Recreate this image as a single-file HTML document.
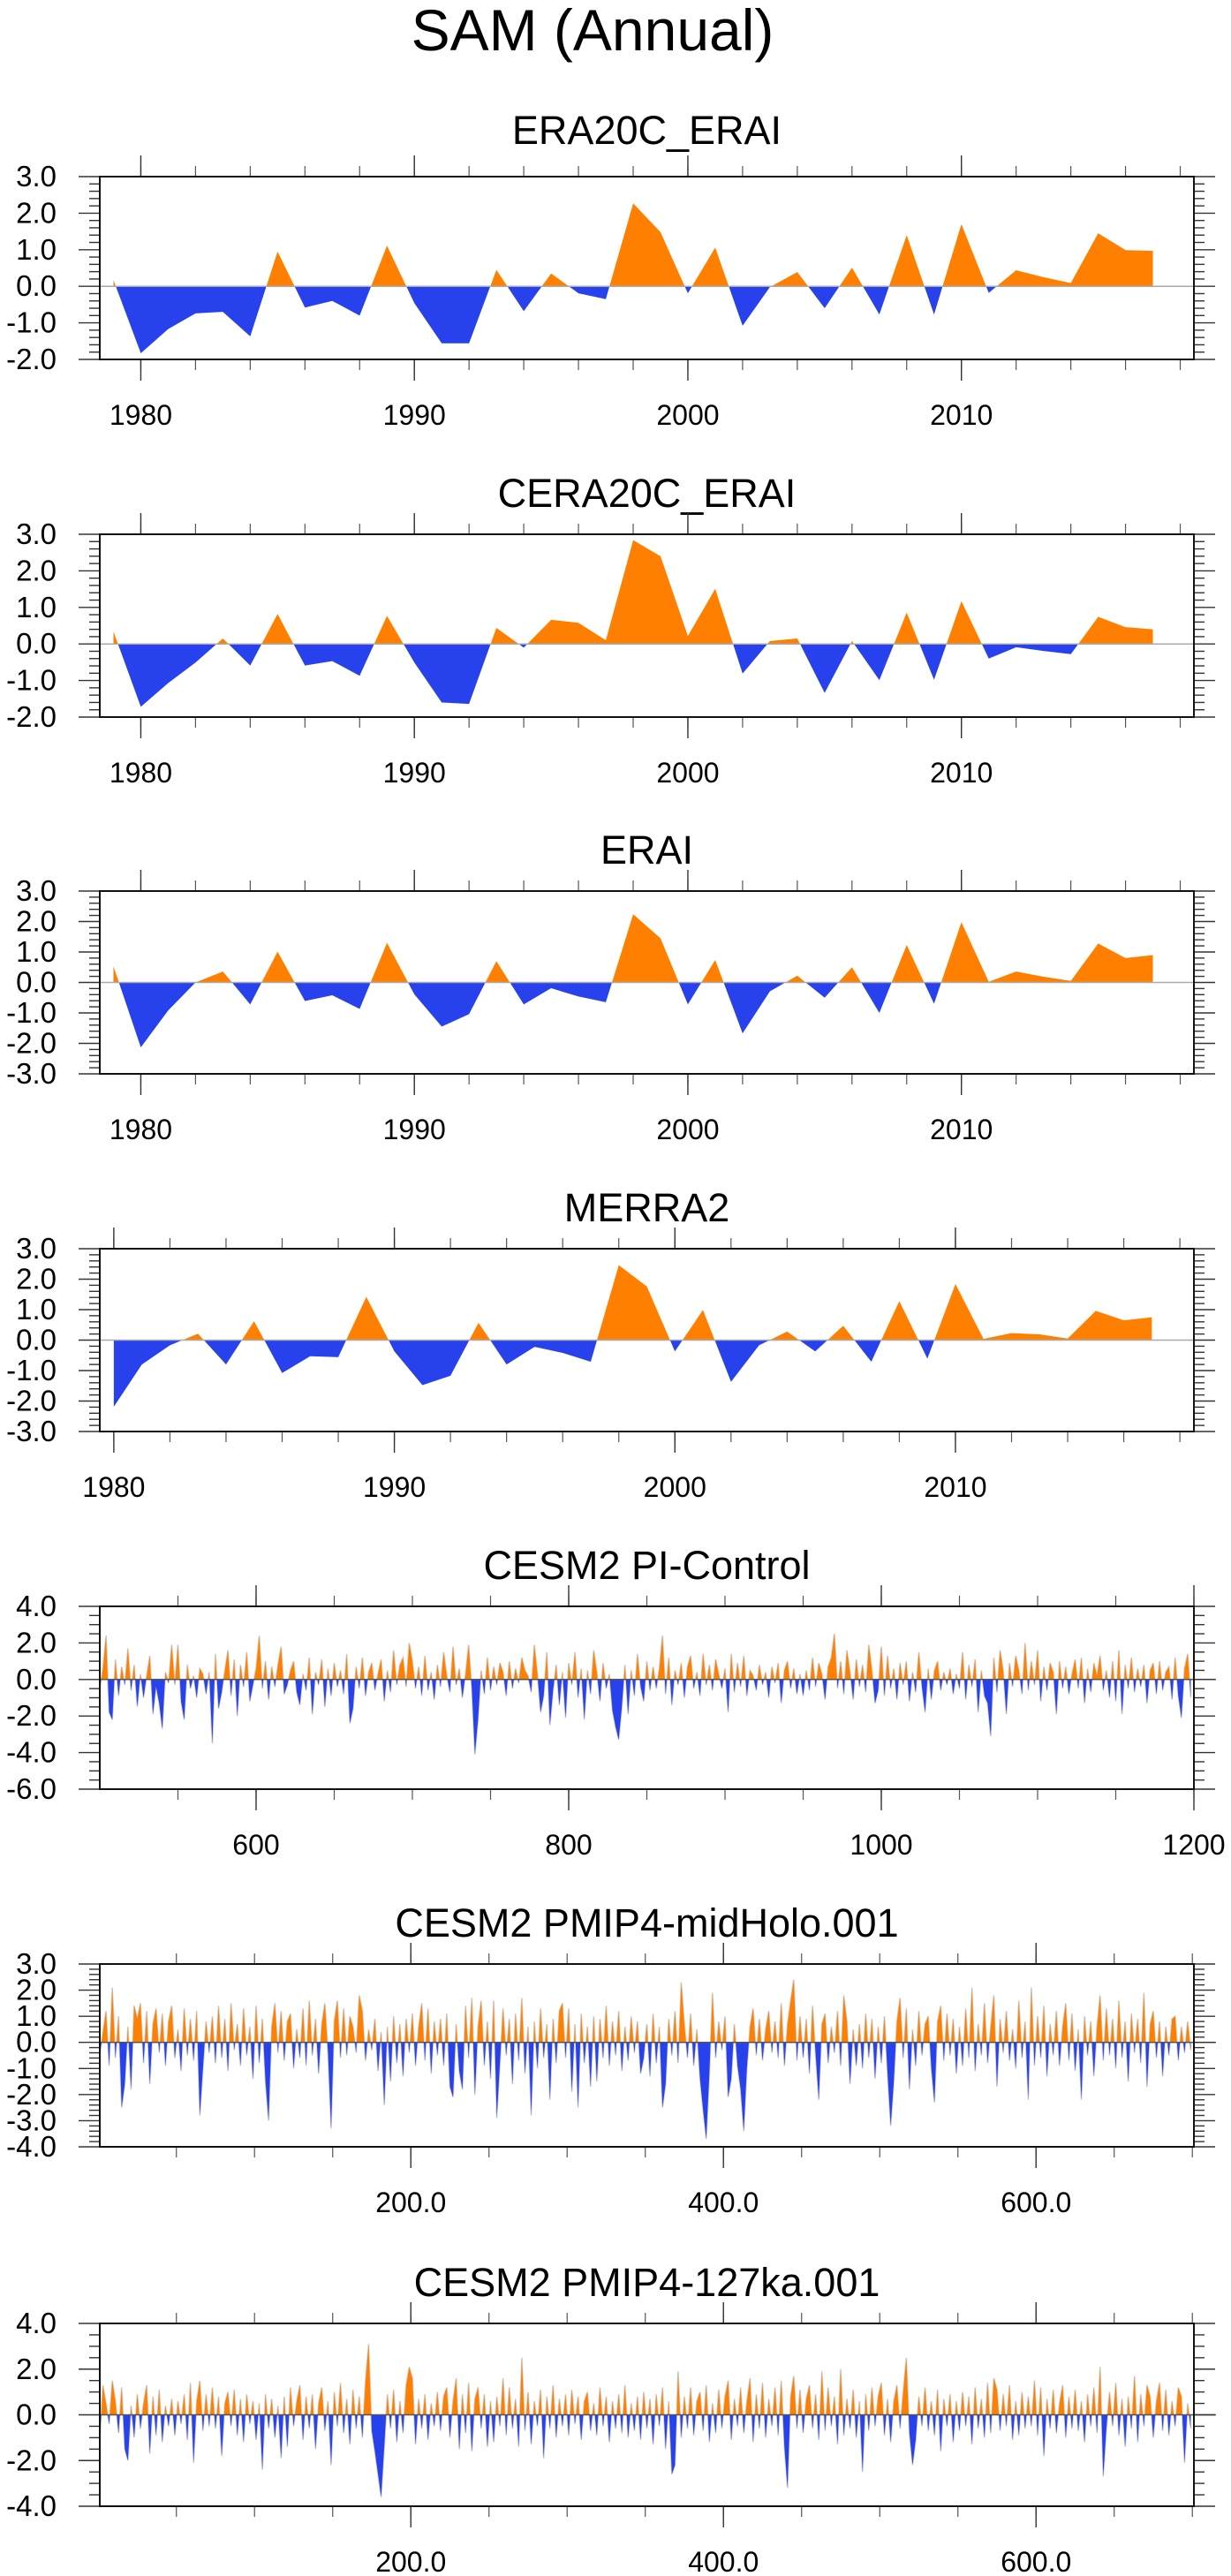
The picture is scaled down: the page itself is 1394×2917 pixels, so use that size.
<!DOCTYPE html>
<html><head><meta charset="utf-8"><style>
html,body{margin:0;padding:0;background:#fff}
svg{display:block}
text{font-family:"Liberation Sans",Arial,sans-serif;fill:#000}
</style></head><body>
<svg id="chart" width="1394" height="2917" viewBox="0 0 1394 2917" xmlns="http://www.w3.org/2000/svg">
<rect width="1394" height="2917" fill="#fff"/>
<text x="671" y="57" font-size="66" text-anchor="middle">SAM (Annual)</text>
</svg>
<script>
// ---- data ----
const era20cYears=[1979,1980,1981,1982,1983,1984,1985,1986,1987,1988,1989,1990,1991,1992,1993,1994,1995,1996,1997,1998,1999,2000,2001,2002,2003,2004,2005,2006,2007,2008,2009,2010,2011,2012,2013,2014,2015,2016,2017];
const era20cValues=[0.17,-1.83,-1.17,-0.74,-0.7,-1.37,0.95,-0.58,-0.4,-0.8,1.11,-0.46,-1.56,-1.56,0.45,-0.68,0.35,-0.19,-0.35,2.27,1.48,-0.19,1.06,-1.08,-0.02,0.39,-0.6,0.51,-0.77,1.4,-0.77,1.7,-0.18,0.44,0.25,0.09,1.45,0.99,0.97];
const cera20cValues=[0.34,-1.72,-1.07,-0.51,0.15,-0.59,0.82,-0.59,-0.47,-0.87,0.77,-0.51,-1.6,-1.64,0.44,-0.1,0.66,0.58,0.1,2.84,2.4,0.22,1.51,-0.81,0.08,0.15,-1.34,0.08,-0.99,0.86,-0.98,1.17,-0.4,-0.09,-0.19,-0.28,0.74,0.46,0.4];
const eraiValues=[0.53,-2.13,-0.92,0,0.36,-0.72,1.01,-0.61,-0.42,-0.87,1.3,-0.39,-1.45,-1.04,0.7,-0.72,-0.19,-0.46,-0.65,2.24,1.45,-0.72,0.74,-1.67,-0.29,0.22,-0.5,0.5,-1.0,1.23,-0.7,1.98,0.02,0.36,0.19,0.05,1.28,0.8,0.9];
const merraYears=[1980,1981,1982,1983,1984,1985,1986,1987,1988,1989,1990,1991,1992,1993,1994,1995,1996,1997,1998,1999,2000,2001,2002,2003,2004,2005,2006,2007,2008,2009,2010,2011,2012,2013,2014,2015,2016,2017];
const merraValues=[-2.19,-0.8,-0.17,0.21,-0.8,0.62,-1.08,-0.53,-0.56,1.42,-0.37,-1.48,-1.17,0.57,-0.8,-0.22,-0.42,-0.71,2.46,1.76,-0.37,0.99,-1.37,-0.17,0.28,-0.37,0.47,-0.71,1.28,-0.61,1.84,0.04,0.23,0.19,0.05,0.96,0.65,0.75];
const piControlValues=[
-0.5,0.6,2.4,-1.8,-2.2,1.1,-0.9,0.7,-0.3,1.7,-0.6,0.8,-1.5,0.3,-1.0,0.2,1.3,-1.9,-0.4,-1.3,-2.7,0.4,-0.2,1.9,-0.3,
1.9,-1.2,-2.2,0.8,-0.5,0.2,-1.0,0.6,0.3,-0.8,0.4,-3.5,1.4,-1.6,-0.7,0.5,1.6,-0.9,1.1,-2.0,0.8,-0.4,1.5,-1.2,-0.3,
0.6,2.4,-0.5,1.0,-1.1,0.7,-0.4,0.8,1.8,-0.8,-0.3,0.5,1.0,-0.7,-1.4,0.3,-0.6,1.2,-1.9,0.4,-0.3,1.1,-1.5,0.6,-0.9,
0.9,-0.4,0.5,-0.8,1.4,-2.4,-1.6,0.7,-0.5,1.2,-0.9,0.4,0.9,-0.6,0.3,1.1,-1.2,0.5,-0.7,1.6,-0.3,0.8,1.2,-0.4,2.0,
1.0,-0.5,0.7,-0.9,1.3,-0.6,0.4,-1.1,0.8,-0.4,1.5,0.2,-0.7,1.8,-0.3,0.6,-1.0,0.3,1.9,-0.5,-4.1,-2.2,0.5,-0.8,1.2,
-0.6,0.7,-0.3,0.9,0.4,-0.9,1.0,-0.5,0.6,-0.2,1.2,0.5,0.2,-0.7,1.9,0.3,-1.8,-0.9,1.5,-2.5,-0.6,0.8,-1.4,0.4,-2.1,
0.9,-0.3,1.5,-1.0,0.6,-2.2,0.5,-0.8,1.6,0.4,-1.2,0.9,-0.5,0.3,-1.7,-2.6,-3.3,-1.5,0.8,-1.9,0.5,-0.9,1.4,-0.4,-1.2,
1.0,-0.6,0.7,-0.5,0.6,2.4,-0.8,1.2,-1.4,0.5,-0.3,0.9,-1.0,0.7,1.3,-0.5,0.4,-0.9,1.4,-0.3,0.8,-0.6,1.1,0.3,-0.5,
0.6,-1.8,1.4,-0.7,0.9,-0.4,1.3,-0.9,0.5,0.2,-0.6,0.8,-0.3,0.4,-1.0,0.7,-0.2,0.9,-1.3,0.5,1.0,-0.5,0.6,-0.8,0.3,
-0.9,0.5,-0.6,1.2,-0.4,0.9,0.3,-1.1,0.7,1.2,2.5,-0.5,1.0,-0.8,1.6,0.4,-1.1,1.1,-0.4,0.8,-0.7,1.9,0.5,-1.3,-0.6,
1.8,-0.9,1.3,-0.5,0.6,-1.1,0.9,-0.3,1.0,-1.2,0.4,-0.7,1.5,-0.4,-1.8,0.6,-1.1,0.5,1.0,-0.6,0.4,-0.3,0.6,-0.8,0.3,
-0.5,1.5,-1.1,0.8,-0.4,1.1,-1.8,0.5,-0.9,-1.3,-3.1,1.2,-0.7,1.6,0.5,-1.9,0.9,-0.4,1.3,0.5,-0.8,2.0,-0.6,1.0,-0.3,
1.6,-1.2,0.7,-0.6,0.9,0.4,-1.9,1.0,-0.5,0.7,-0.8,0.3,1.1,-0.5,1.2,-1.3,0.6,-0.7,0.9,0.2,1.3,-0.6,0.5,-1.0,1.0,
-1.2,1.6,-1.9,0.8,-0.5,1.2,-0.7,0.6,-0.4,0.8,-1.3,0.5,0.9,-0.8,1.0,-0.6,0.4,0.7,-1.1,1.2,-0.9,-2.1,0.6,1.4,-1.0];
const midHoloValues=[
-0.5,0.4,1.2,-0.9,2.1,-0.6,1.0,-2.5,-1.6,0.6,-1.8,1.4,0.9,1.5,-0.8,1.2,-1.6,0.7,1.3,-0.4,1.1,-0.9,0.8,1.4,-0.6,
0.5,-1.1,1.3,-0.5,0.9,-0.7,1.2,-2.8,-1.0,0.8,-0.4,1.0,-0.8,1.4,-0.6,0.9,-1.1,1.5,-0.3,0.7,-0.9,1.3,-0.5,0.6,-1.4,
1.4,-0.8,0.9,-1.5,-3.0,0.6,1.5,-0.4,1.2,-0.7,0.8,1.1,-1.0,0.5,-0.6,1.3,-0.9,1.6,-0.5,0.9,-1.2,0.7,1.5,-0.4,-3.3,
0.8,1.6,-0.6,1.3,-0.5,1.0,0.6,-0.4,1.8,1.2,-0.7,0.5,-0.3,0.9,-1.1,0.4,-2.4,0.6,-1.5,1.0,-0.8,0.7,-1.3,0.9,-0.4,
1.1,-0.9,0.6,1.5,-0.7,1.3,-1.2,0.8,-0.5,0.9,-0.9,1.1,-1.7,-2.1,0.7,-1.1,-1.8,1.4,-0.6,1.7,-2.0,0.6,1.6,-0.9,0.8,
-1.4,1.6,-2.9,-0.8,1.3,-0.5,0.9,-1.6,1.1,-0.7,1.7,-1.2,0.6,-2.8,0.8,-1.0,1.3,-0.6,0.7,-2.2,0.9,-0.8,1.2,1.5,-0.6,
1.3,-1.9,0.7,-2.5,1.1,-0.8,0.6,-1.7,1.0,-1.5,0.9,-0.6,1.4,-0.9,0.8,-0.5,1.2,-1.1,0.6,-0.7,1.0,-0.4,0.8,-1.2,-0.6,
0.7,-1.3,1.1,-0.8,0.6,-2.5,-1.6,0.9,-0.5,1.2,-0.8,2.3,0.7,-0.6,1.1,-0.9,0.5,-1.4,-2.6,-3.7,-1.2,1.9,-0.6,0.8,-0.3,
1.0,-2.1,-1.4,0.7,-0.9,-1.8,-3.4,-1.0,0.6,1.3,-0.5,0.9,-0.7,0.5,1.2,-0.4,0.8,-0.6,1.5,-0.9,0.7,1.6,2.4,-0.7,1.0,
-0.6,0.9,-1.2,1.4,-0.5,-2.2,0.7,1.1,-0.8,0.6,-0.4,1.2,-0.9,1.8,0.8,-1.6,0.5,-0.9,0.7,-1.0,1.1,-0.6,0.9,-1.4,0.6,
-0.8,1.0,-1.2,-3.2,-1.5,0.8,1.7,-0.6,1.3,-1.8,0.5,-0.9,1.2,-0.5,0.7,1.0,-1.0,-2.3,0.8,1.4,-0.7,1.1,-0.5,0.9,-1.2,
0.6,-0.9,1.3,-0.6,2.1,-1.1,0.7,-0.5,1.5,-0.8,0.6,1.8,-1.7,0.9,-0.4,1.2,-0.7,0.5,-1.0,1.6,-0.6,0.8,-2.2,2.1,-0.9,
1.0,-0.6,1.4,-1.3,0.7,-0.5,1.2,-0.9,0.6,1.5,-0.7,1.1,-1.1,0.5,-2.2,1.0,-0.5,0.8,-1.3,0.6,1.8,-0.7,1.3,-0.5,0.9,
-1.0,1.6,-0.6,0.8,-1.5,1.1,-0.4,0.9,-0.8,1.9,-1.7,0.7,1.2,-0.6,0.8,-1.3,0.6,-0.5,0.9,1.0,-0.7,0.6,-0.4,0.8,-0.3];
const ka127Values=[
-1.1,1.3,0.5,-0.4,1.5,0.6,-0.8,1.2,-1.5,-2.0,0.4,-1.0,0.9,-0.6,0.5,1.3,-1.7,0.8,-0.9,1.1,-1.2,0.4,-0.5,0.7,-0.9,
0.6,-0.4,0.9,-1.1,1.4,-2.1,0.6,1.5,-0.7,0.9,-0.5,1.2,-0.6,0.8,-1.8,0.5,1.0,-0.5,1.1,-0.9,0.7,-1.2,0.9,-0.4,0.6,
-1.1,0.5,-2.4,0.9,-0.6,0.7,-1.0,0.4,-1.9,0.8,-1.4,1.2,-0.5,0.6,1.3,-1.1,0.8,-0.6,0.9,-1.5,0.5,1.2,-0.7,0.6,-2.2,
1.0,-0.5,1.4,-0.8,0.7,-1.3,1.1,-0.6,0.8,-1.0,1.5,3.1,-0.7,-1.6,-2.6,-3.6,-1.4,0.9,-0.6,1.1,-1.2,0.6,-0.8,1.3,2.1,
1.6,-1.3,0.7,-0.6,0.9,-1.1,0.5,-0.5,1.0,-0.7,0.8,1.2,-1.0,0.6,1.6,-1.5,0.9,-0.8,1.4,-1.6,0.7,1.2,-0.6,0.9,-1.4,
0.6,-1.2,0.8,-0.5,1.6,-0.9,1.2,-0.6,0.7,-1.4,2.5,-0.7,1.0,-1.3,0.6,-0.5,1.1,-1.9,0.8,-0.6,1.3,-1.0,0.7,-0.5,0.9,
-0.9,1.1,-0.4,0.8,-1.1,0.6,1.0,-0.7,0.5,-0.9,1.2,-0.5,0.8,-1.2,0.6,-0.6,0.9,-0.8,1.3,-1.0,0.5,-0.7,0.8,-1.1,1.0,
-0.6,0.7,-1.3,0.9,-0.5,1.2,-1.5,0.6,-2.6,-2.2,1.9,-1.0,0.8,-0.6,1.2,-0.9,0.6,1.0,-0.7,1.3,-1.2,0.5,-0.8,1.1,-0.6,
0.8,1.5,-1.1,0.7,-0.5,1.2,-0.8,0.6,1.6,-1.2,0.9,-0.6,1.4,-1.0,0.7,-0.5,1.2,-0.9,1.5,-1.4,-3.2,0.8,1.7,-0.6,1.1,
-0.8,0.7,1.3,-0.6,0.9,-1.1,1.9,-0.7,1.2,-0.5,0.8,-1.3,2.0,-0.9,0.7,-0.6,1.1,-1.0,0.6,-2.5,0.9,-0.7,1.2,-0.5,0.8,
1.4,-0.9,0.7,-1.2,0.6,1.3,-0.6,1.0,2.5,-0.8,-2.2,-1.1,0.8,-0.5,1.2,-0.7,0.6,-0.9,1.1,-1.6,0.7,-0.5,0.9,-1.2,0.6,
-0.7,1.0,-0.5,0.8,-1.3,1.2,-0.6,0.7,-1.0,1.4,-0.8,1.6,1.1,-0.7,0.9,-0.5,1.3,-1.1,0.6,-0.9,1.0,-0.6,0.8,-0.5,1.5,
-0.9,1.2,-1.8,0.7,-0.6,1.1,-0.8,0.5,1.3,-1.0,0.8,-0.6,1.1,-0.7,0.6,-1.2,0.9,-0.5,1.2,-0.8,2.1,-2.7,-0.6,1.0,-0.5,
1.4,-0.9,0.7,-1.4,0.8,-0.6,1.7,-1.2,0.9,-0.5,1.3,0.8,-1.0,0.6,1.4,-0.7,1.1,-0.9,0.6,-0.5,1.2,0.8,-2.1,0.5,-0.6];
const era20cXLabels=["1980","1990","2000","2010"];
const piXLabels=["600","800","1000","1200"];
const holoXLabels=["200.0","400.0","600.0"];

// ---- drawing ----
const NS="http://www.w3.org/2000/svg";
const svg=document.getElementById('chart');
const L=113,R=1352,H=207;
function mk(tag,attrs,parent){const e=document.createElementNS(NS,tag);for(const k in attrs)e.setAttribute(k,attrs[k]);(parent||svg).appendChild(e);return e;}
function seqX(start,step,n){const a=[];for(let i=0;i<n;i++)a.push(start+i*step);return a;}

const panels=[
 {id:'era20c',title:'ERA20C_ERAI',top:200,x0:1978.5,x1:2018.5,xs:era20cYears,ys:era20cValues,ymin:-2,ymax:3,ymaj:1,ymin_:0.2,xmaj:[1980,1990,2000,2010],xlab:era20cXLabels,xminStep:2,xminStart:1978,titleY:163,long:false},
 {id:'cera20c',title:'CERA20C_ERAI',top:605,x0:1978.5,x1:2018.5,xs:era20cYears,ys:cera20cValues,ymin:-2,ymax:3,ymaj:1,ymin_:0.2,xmaj:[1980,1990,2000,2010],xlab:era20cXLabels,xminStep:2,xminStart:1978,long:false},
 {id:'erai',title:'ERAI',top:1009,x0:1978.5,x1:2018.5,xs:era20cYears,ys:eraiValues,ymin:-3,ymax:3,ymaj:1,ymin_:0.2,xmaj:[1980,1990,2000,2010],xlab:era20cXLabels,xminStep:2,xminStart:1978,long:false},
 {id:'merra2',title:'MERRA2',top:1414,x0:1979.5,x1:2018.5,xs:merraYears,ys:merraValues,ymin:-3,ymax:3,ymaj:1,ymin_:0.2,xmaj:[1980,1990,2000,2010],xlab:era20cXLabels,xminStep:2,xminStart:1980,long:false},
 {id:'pi-control',title:'CESM2 PI-Control',top:1819,x0:500,x1:1200,xs:seqX(500,2,piControlValues.length),ys:piControlValues,ymin:-6,ymax:4,ymaj:2,ymin_:0.5,xmaj:[600,800,1000,1200],xlab:piXLabels,xminStep:50,xminStart:550,long:true},
 {id:'midholo',title:'CESM2 PMIP4-midHolo.001',top:2224,x0:1,x1:701,xs:seqX(1,2,midHoloValues.length),ys:midHoloValues,ymin:-4,ymax:3,ymaj:1,ymin_:0.2,xmaj:[200,400,600],xlab:holoXLabels,xminStep:50,xminStart:50,long:true},
 {id:'127ka',title:'CESM2 PMIP4-127ka.001',top:2631,x0:1,x1:701,xs:seqX(1,2,ka127Values.length),ys:ka127Values,ymin:-4,ymax:4,ymaj:2,ymin_:0.5,xmaj:[200,400,600],xlab:holoXLabels,xminStep:50,xminStart:50,long:true}
];

panels.forEach(p=>{
 const T=p.top,B=p.top+H;
 const g=mk('g',{});
 
 
 const sx=v=>L+(v-p.x0)/(p.x1-p.x0)*(R-L);
 const sy=v=>B-(v-p.ymin)/(p.ymax-p.ymin)*H;
 const t=mk('text',{x:(L+R)/2,y:p.titleY||(T-31),'font-size':45,'text-anchor':'middle'},g);
 t.textContent=p.title;
 
 
 const cid='clip-'+p.id;
 const defs=mk('defs',{},g);
 const z=sy(0);
 const c1=mk('clipPath',{id:cid+'-up'},defs);mk('rect',{x:L,y:T,width:R-L,height:z-T},c1);
 const c2=mk('clipPath',{id:cid+'-dn'},defs);mk('rect',{x:L,y:z,width:R-L,height:B-z},c2);
 let pts=sx(p.xs[0]).toFixed(2)+','+z.toFixed(2)+' ';
 let line='';
 p.xs.forEach((x,i)=>{const s=sx(x).toFixed(2)+','+sy(p.ys[i]).toFixed(2);pts+=s+' ';line+=s+' ';});
 pts+=sx(p.xs[p.xs.length-1]).toFixed(2)+','+z.toFixed(2);
 if(p.long){const pl=mk('polyline',{points:line,fill:'none',stroke:'#cfcfcf','stroke-width':1.6},g);
  
  }
 const up=mk('polygon',{points:pts,fill:'#ff8000','clip-path':'url(#'+cid+'-up)'},g);
 
 
 const dn=mk('polygon',{points:pts,fill:'#2742ec','clip-path':'url(#'+cid+'-dn)'},g);
 
 
 const zl=mk('line',{x1:L,x2:p.long?1377:R,y1:z,y2:z,stroke:p.long?'#555':'#aaa','stroke-width':1.5},g);
 
 
 // y ticks
 const nMin=Math.round((p.ymax-p.ymin)/p.ymin_);
 for(let k=0;k<=nMin;k++){const v=p.ymin+k*p.ymin_;const y=sy(v);
  const maj=Math.abs(v/p.ymaj-Math.round(v/p.ymaj))<1e-6;const len=maj?24:12;
  mk('line',{x1:L-len,x2:L,y1:y,y2:y,stroke:'#333','stroke-width':1.4},g);
  mk('line',{x1:R,x2:R+len,y1:y,y2:y,stroke:'#333','stroke-width':1.4},g);
  if(maj){const lt=mk('text',{x:64,y:y+11,'font-size':33,'text-anchor':'end'},g);
   lt.textContent=v.toFixed(1);
   
   }
 }
 // x ticks
 for(let v=p.xminStart;v<=p.x1;v+=p.xminStep){if(v<p.x0)continue;const x=sx(v);
  mk('line',{x1:x,x2:x,y1:T-12,y2:T,stroke:'#555','stroke-width':1.2},g);
  mk('line',{x1:x,x2:x,y1:B,y2:B+12,stroke:'#555','stroke-width':1.2},g);}
 p.xmaj.forEach((v,i)=>{const x=sx(v);
  mk('line',{x1:x,x2:x,y1:T-24,y2:T,stroke:'#333','stroke-width':1.4},g);
  mk('line',{x1:x,x2:x,y1:B,y2:B+24,stroke:'#333','stroke-width':1.4},g);
  const xt=mk('text',{x:x,y:B+74,'font-size':32,'text-anchor':'middle'},g);
  xt.textContent=p.xlab[i];
  
  });
 const fr=mk('rect',{x:L,y:T,width:R-L,height:H,fill:'none',stroke:'#111','stroke-width':2},g);
 
 
});
</script>
</body></html>
